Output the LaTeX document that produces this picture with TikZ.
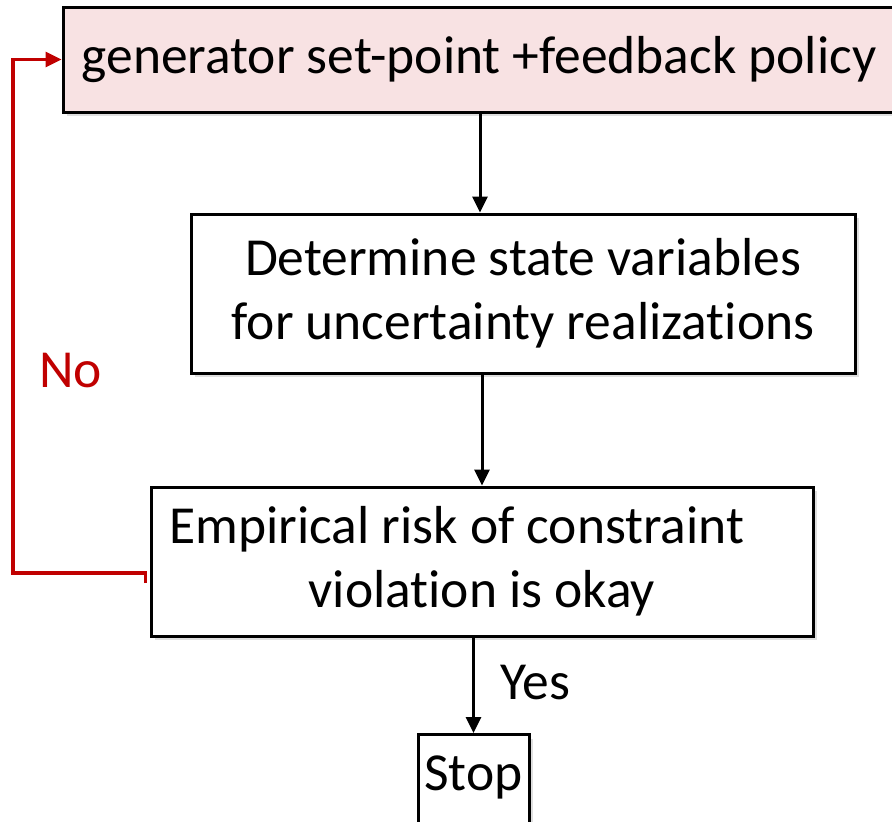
\documentclass[tikz,border=0pt]{standalone}
\usepackage{fontspec}
\setmainfont{Carlito}[Ligatures=NoCommon]
\usetikzlibrary{arrows.meta,shadows,calc}
\definecolor{pinkfill}{RGB}{248,226,227}
\definecolor{darkred}{RGB}{192,0,0}
\begin{document}
\begin{tikzpicture}[x=1pt,y=-1pt,
  box/.style={draw=black,line width=3pt,fill=white,inner sep=0pt,align=center,
    font=\fontsize{53.5}{64}\selectfont,
    drop shadow={shadow xshift=4pt,shadow yshift=-4pt,opacity=0.25,fill=gray}},
  arr/.style={line width=3pt,-{Triangle[length=16pt,width=15pt]}},
  lbl/.style={font=\fontsize{53.5}{64}\selectfont,inner sep=0pt}]
\useasboundingbox (0,0) rectangle (892,822);
\node[box,fill=pinkfill,minimum width=832pt,minimum height=105pt] (top) at (479,59.5) {generator set-point +feedback policy};
\node[box,minimum width=664pt,minimum height=159pt] (det) at (523,293.5) {Determine state variables\\for uncertainty realizations};
\node[box,minimum width=662pt,minimum height=149pt] (emp) at (482,561.5) {Empirical risk of constraint\hspace*{50pt}\\violation is okay};
\node[box,anchor=north,minimum width=111pt,text height=32pt,text depth=10pt,inner ysep=24pt] (stop) at (473.5,733) {Stop};
\draw[arr] ($(top.south)+(1,0)$) -- ($(det.north -| top.south)+(1,0)$);
\draw[arr] (emp.north |- det.south) -- (emp.north);
\draw[arr] (stop.north |- emp.south) -- (stop.north);
\coordinate (nostart) at ($(emp.west)+(-4,21.5)$);
\draw[darkred,line width=3.2pt,-{Triangle[length=16pt,width=15pt]}] (nostart) -- ++(0,-10) -| (13,300) |- (top.west);
\node[lbl,anchor=base west,text=darkred] (no) at (39,387) {No};
\node[lbl,anchor=base west] (yes) at (500,699) {Yes};
\end{tikzpicture}
\end{document}
